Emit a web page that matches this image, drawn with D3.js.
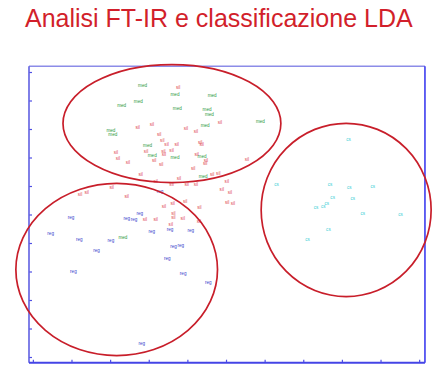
<!DOCTYPE html>
<html>
<head>
<meta charset="utf-8">
<script src="https://cdn.jsdelivr.net/npm/d3@7"></script>
<style>
html,body{margin:0;padding:0;background:#fff;}
svg{display:block;}
</style>
</head>
<body>
<svg id="chart" width="440" height="369"></svg>
<script>
// ---- data (LDA scores) ----
const title = "Analisi FT-IR e classificazione LDA";
const ticks = [0,1,2,3,4,5,6,7,8,9,10];

const medX = [2.84,3.68,4.64,2.30,2.73,3.74,4.51,4.57,4.46,2.02,2.07,2.97,3.09,3.68,4.38,4.41,5.89,2.33];
const medY = [9.54,9.22,9.17,8.84,8.96,8.71,8.67,8.52,8.12,7.96,7.79,7.41,7.06,6.99,7.04,6.32,8.28,4.19];

const silX = [3.76,4.84,3.08,2.71,3.96,4.22,3.27,3.35,3.46,3.72,4.33,4.37,2.93,3.38,3.59,3.39,2.15,2.20,2.46,3.14,3.32,4.24,4.48,4.46,4.15,2.79,4.64,4.80,3.18,3.78,3.98,4.22,3.59,5.02,4.89,5.10,5.03,5.18,2.04,2.43,1.22,1.39,3.39,3.62,3.94,4.31,3.64,3.64,2.90,3.18,3.88,3.57,4.30,5.54];
const silY = [9.45,8.22,8.16,8.06,8.02,7.92,7.82,7.58,7.46,7.47,7.54,7.45,7.20,7.20,7.23,7.09,7.16,6.96,6.83,6.91,6.76,7.11,6.91,6.80,6.62,6.42,6.41,6.43,6.16,6.27,6.04,6.04,6.04,6.15,5.86,5.76,5.41,5.37,5.94,5.62,5.69,5.76,5.27,5.39,5.45,5.25,5.04,4.89,4.81,4.83,4.87,4.64,4.75,6.94];

const regX = [0.99,2.43,2.62,2.77,0.46,1.20,2.02,3.08,3.55,4.09,1.65,3.64,3.83,3.48,1.05,3.89,4.54,2.82,3.29];
const regY = [4.90,4.87,4.81,5.04,4.32,4.14,4.08,4.39,4.46,4.43,3.74,3.89,3.92,3.46,2.99,2.94,2.62,0.48,5.80];

const csX = [6.31,7.69,8.19,8.80,7.76,8.28,7.61,7.52,7.33,8.54,9.52,7.65,7.11,8.17];
const csY = [6.07,6.04,5.95,6.00,5.59,5.55,5.39,5.27,5.25,5.02,5.01,4.49,4.11,7.62];

// group ellipses: centre x, centre y, radius x, radius y (data units)
const ellCx = [3.60,2.17,8.11];
const ellCy = [8.19,3.07,5.16];
const ellRx = [2.82,2.61,2.20];
const ellRy = [2.07,3.02,3.04];

// ---- drawing ----
const svg = d3.select("#chart");
const x = d3.scaleLinear().domain([0,10]).range([32.86,419.16]);
const y = d3.scaleLinear().domain([0,10]).range([357,72]);
const xMin=-0.1, xMax=10.15, yMin=-0.2, yMax=10.2;

svg.append("rect").attr("width",440).attr("height",369).attr("fill","#ffffff");

svg.append("text")
  .attr("x",25).attr("y",27)
  .attr("font-family","'Liberation Sans', Arial, sans-serif")
  .attr("font-size",25)
  .attr("fill","#d21f2b")
  .text(title);

const boxColor = "#5050e4";
// frame
svg.append("line").attr("x1",x(xMin)).attr("x2",x(xMax)).attr("y1",y(yMax)).attr("y2",y(yMax))
  .attr("stroke","#8c8ce8").attr("stroke-width",1.5);
svg.append("line").attr("x1",x(xMax)).attr("x2",x(xMax)).attr("y1",y(yMax)).attr("y2",y(yMin))
  .attr("stroke","#3030ee").attr("stroke-width",1.5);

// axes with inward ticks
const gl = svg.append("g").attr("transform",`translate(${x(xMin)},0)`)
  .call(d3.axisLeft(y).tickValues(ticks).tickSize(-3).tickFormat(""));
const gb = svg.append("g").attr("transform",`translate(0,${y(yMin)})`)
  .call(d3.axisBottom(x).tickValues(ticks).tickSize(-3).tickFormat(""));
gl.select(".domain").remove();
gb.select(".domain").remove();
gl.selectAll("line").attr("stroke",boxColor).attr("stroke-width",1.2);
gb.selectAll("line").attr("stroke",boxColor).attr("stroke-width",1.2);
svg.append("line").attr("x1",x(xMin)).attr("x2",x(xMin)).attr("y1",y(yMax)).attr("y2",y(yMin))
  .attr("stroke","#6060e2").attr("stroke-width",1.6);
svg.append("line").attr("x1",x(xMin)).attr("x2",x(xMax)).attr("y1",y(yMin)).attr("y2",y(yMin))
  .attr("stroke","#4444e6").attr("stroke-width",2);

// labels
const groups = [
  {name:"sil", xs:silX, ys:silY, color:"#e0474f"},
  {name:"med", xs:medX, ys:medY, color:"#2e9a3e"},
  {name:"reg", xs:regX, ys:regY, color:"#3a44cc"},
  {name:"cs",  xs:csX,  ys:csY,  color:"#3ccfd6"}
];
groups.forEach(g=>{
  svg.append("g").selectAll("text").data(g.xs.map((v,i)=>[v,g.ys[i]])).join("text")
    .attr("x",d=>x(d[0])).attr("y",d=>y(d[1]))
    .attr("text-anchor","middle").attr("dominant-baseline","central")
    .attr("font-family","'Liberation Sans', Arial, sans-serif")
    .attr("font-size",4.6).attr("fill",g.color)
    .text(g.name);
});

// ellipses
svg.append("g").selectAll("ellipse").data(ellCx.map((v,i)=>i)).join("ellipse")
  .attr("cx",i=>x(ellCx[i])).attr("cy",i=>y(ellCy[i]))
  .attr("rx",i=>x(ellRx[i])-x(0)).attr("ry",i=>y(0)-y(ellRy[i]))
  .attr("fill","none").attr("stroke","#c81e2a").attr("stroke-width",1.7);
</script>
</body>
</html>
